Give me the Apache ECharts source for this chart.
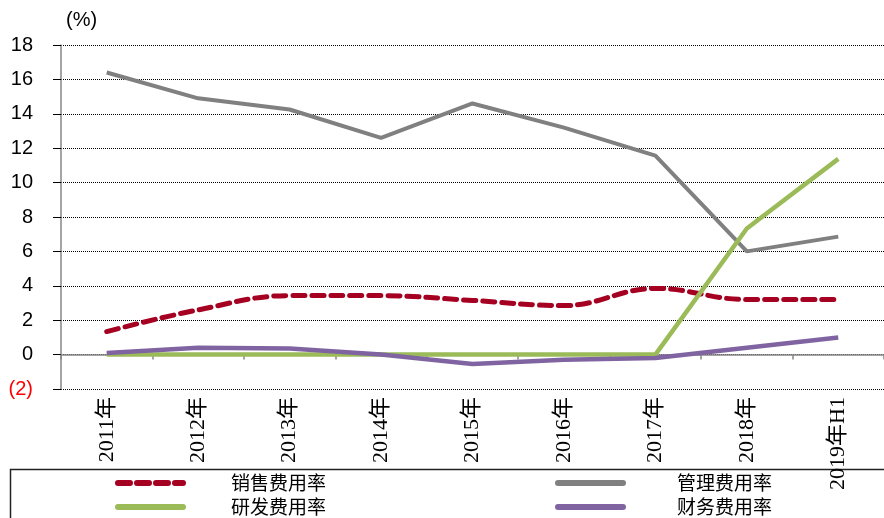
<!DOCTYPE html>
<html>
<head>
<meta charset="utf-8">
<script src="https://cdn.jsdelivr.net/npm/echarts@6/dist/echarts.min.js"></script>
<style>html,body{margin:0;padding:0;background:#fff;}#c{width:884px;height:518px;}</style>
</head>
<body>
<div id="c"></div>
<script>
var categories = ['2011年','2012年','2013年','2014年','2015年','2016年','2017年','2018年','2019年H1'];
var salesRate = [1.34, 2.6, 3.43, 3.43, 3.15, 2.85, 3.85, 3.2, 3.2];
var mgmtRate = [16.4, 14.9, 14.25, 12.6, 14.6, 13.2, 11.57, 6.0, 6.86];
var rdRate = [0, 0, 0, 0, 0, 0, 0, 7.33, 11.38];
var finRate = [0.1, 0.4, 0.35, 0, -0.55, -0.3, -0.2, 0.4, 1.0];
var yMin = -2, yMax = 18, yInterval = 2;
var unitLabel = '(%)';

var chart = echarts.init(document.getElementById('c'));
var cjkSerif = '"Liberation Serif","DejaVu Serif","Noto Sans CJK SC",serif';
var legendText = {fontSize: 19, lineHeight: 20, color: '#000', fontFamily: '"Noto Sans CJK SC",sans-serif'};
var legendLine = {width: 6, cap: 'round'};
var option = {
  animation: false,
  grid: {left: 61, top: 45, width: 824, height: 344},
  xAxis: [{
    type: 'category', data: categories, boundaryGap: true,
    position: 'bottom',
    axisLine: {show: false, onZero: false},
    axisTick: {show: false},
    axisLabel: {rotate: 90, margin: 8, color: '#000', fontSize: 22, fontFamily: cjkSerif}
  }, {
    type: 'category', data: categories, boundaryGap: true,
    position: 'bottom',
    axisLine: {show: true, onZero: true, lineStyle: {color: '#868686', width: 1.5}},
    axisTick: {show: true, length: 5, lineStyle: {color: '#868686', width: 1.5}},
    axisLabel: {show: false}
  }],
  yAxis: {
    type: 'value', min: yMin, max: yMax, interval: yInterval,
    axisLine: {show: true, lineStyle: {color: '#868686', width: 1.5}},
    axisTick: {show: true, length: 8, lineStyle: {color: '#000', width: 1}},
    splitLine: {show: true, lineStyle: {color: '#000', width: 1, type: 'dotted'}},
    axisLabel: {
      margin: 28, color: '#000', fontSize: 20, fontFamily: '"Liberation Sans",Arial,sans-serif',
      formatter: function (v) { return v < 0 ? '{neg|(' + Math.abs(v) + ')}' : String(v); },
      rich: {neg: {color: '#ff0000', fontSize: 20, fontFamily: '"Liberation Sans",Arial,sans-serif'}}
    }
  },
  legend: [{
    orient: 'vertical', left: 115, top: 473, padding: 0, width: 300, height: 200, itemWidth: 65, itemHeight: 14, itemGap: 4,
    data: ['销售费用率', '研发费用率'], lineStyle: legendLine,
    textStyle: Object.assign({padding: [0, 0, 0, 43]}, legendText)
  }, {
    orient: 'vertical', left: 555, top: 473, padding: 0, width: 300, height: 200, itemWidth: 65, itemHeight: 14, itemGap: 4,
    data: ['管理费用率', '财务费用率'], lineStyle: legendLine,
    textStyle: Object.assign({padding: [0, 0, 0, 49]}, legendText)
  }],
  graphic: [{
    type: 'rect', z: -1, silent: true,
    shape: {x: 10.5, y: 469.5, width: 900, height: 80},
    style: {fill: 'none', stroke: '#222', lineWidth: 1.5}
  }, {
    type: 'text', left: 66, top: 10,
    style: {text: unitLabel, fill: '#000', font: '20px "Liberation Sans",Arial,sans-serif'}
  }],
  series: [{
    name: '销售费用率', type: 'line', data: salesRate, smooth: 0.4, symbol: 'none',
    lineStyle: {color: '#A50021', width: 5, type: [12, 7], cap: 'round'},
    itemStyle: {color: 'rgba(0,0,0,0)'}
  }, {
    name: '管理费用率', type: 'line', data: mgmtRate, symbol: 'none',
    lineStyle: {color: '#808080', width: 4},
    itemStyle: {color: 'rgba(0,0,0,0)'}
  }, {
    name: '研发费用率', type: 'line', data: rdRate, symbol: 'none',
    lineStyle: {color: '#9BBB59', width: 4.5},
    itemStyle: {color: 'rgba(0,0,0,0)'}
  }, {
    name: '财务费用率', type: 'line', data: finRate, symbol: 'none',
    lineStyle: {color: '#8064A2', width: 4.5},
    itemStyle: {color: 'rgba(0,0,0,0)'}
  }]
};
chart.setOption(option);
</script>
</body>
</html>
